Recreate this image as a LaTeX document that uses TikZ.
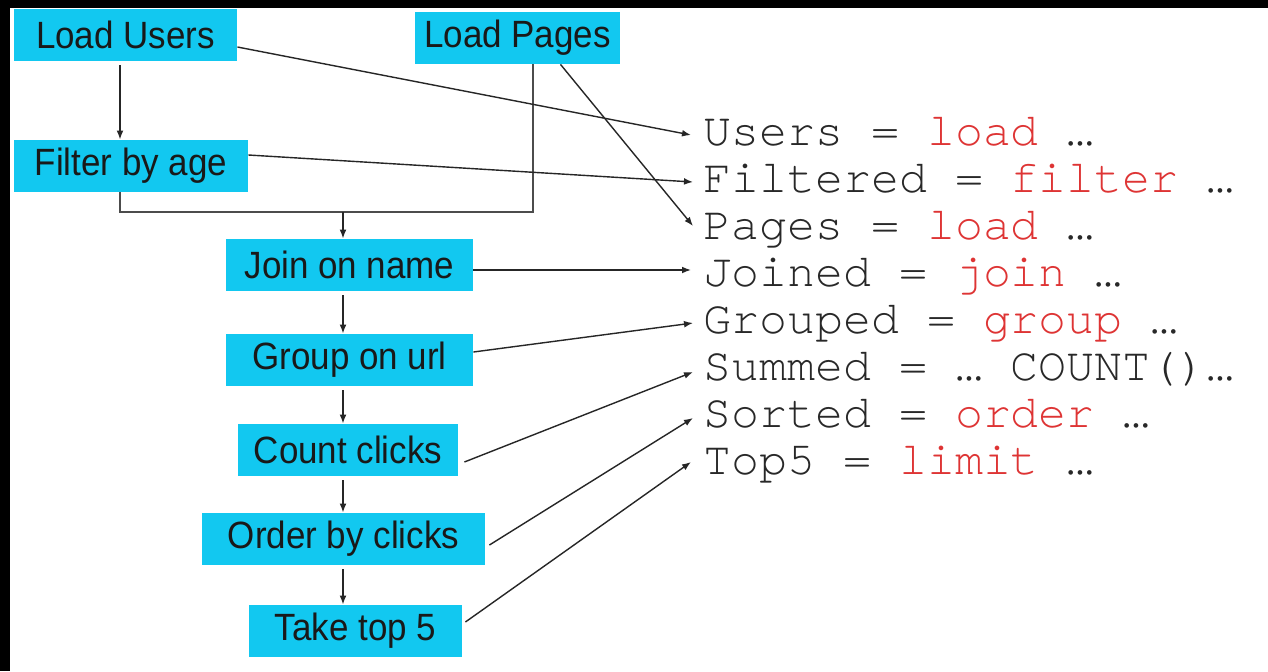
\documentclass[tikz,border=0pt]{standalone}
\usepackage{fontspec}
\usetikzlibrary{calc,arrows.meta}
\newfontfamily\boxfont{Liberation Sans}[FakeStretch=0.92]
\newfontfamily\codefont{TeX Gyre Cursor}[Ligatures={NoCommon,NoRequired}]
\definecolor{stagecyan}{RGB}{18,200,240}
\definecolor{kwred}{RGB}{222,52,52}
\definecolor{codegray}{RGB}{40,40,40}
\tikzset{
	stage/.style={fill=stagecyan, inner sep=0pt, minimum height=26pt, text=black!90, font=\boxfont\fontsize{19}{19}\selectfont},
	codeline/.style={anchor=base west, inner sep=0pt, text=codegray, font=\codefont\fontsize{23.3}{24}\selectfont},
	flow/.style={draw=black!85, line width=0.7pt, -{Latex[length=4.5pt,width=3.4pt]}},
	link/.style={draw=black!70, line width=0.7pt},
}
\newcommand{\kw}[1]{\textcolor{kwred}{#1}}

\begin{document}
\begin{tikzpicture}[x=0.5pt,y=-0.5pt]
	\useasboundingbox (0,0) rectangle (1268,671);
	\fill[white] (0,0) rectangle (1268,671);
	\fill[black] (0,0) rectangle (1268,8);
	\fill[black] (0,0) rectangle (10,671);

	% dataflow boxes
	\node[stage, minimum width=111.5pt] (lu) at (125.5,35) {Load Users};
	\node[stage, minimum width=102.5pt] (lp) at (517.5,38) {Load Pages};
	\node[stage, minimum width=117pt] (fa) at (131,166) {Filter by age};
	\node[stage, minimum width=123.5pt] (join) at (349.5,265) {Join on name};
	\node[stage, minimum width=123.5pt] (group) at (349.5,360) {Group on url};
	\node[stage, minimum width=110pt] (count) at (348,450) {Count clicks};
	\node[stage, minimum width=141.5pt] (order) at (343.5,539) {Order by clicks};
	\node[stage, minimum width=106.5pt] (take) at (355.5,631) {Take top 5};

	\coordinate (ucol) at (120,0);
	\coordinate (pcol) at (533,0);
	\coordinate (spine) at (343,0);
	\coordinate (merge) at (343,212);

	\draw[flow, shorten <=2pt] (lu.south -| ucol) -- (fa.north -| ucol);
	\draw[link] (fa.south -| ucol) |- (merge) -| (lp.south -| pcol);
	\draw[flow] (merge) -- (join.north -| merge);
	\draw[flow, shorten <=2pt] (join.south -| spine) -- (group.north -| spine);
	\draw[flow, shorten <=2pt] (group.south -| spine) -- (count.north -| spine);
	\draw[flow, shorten <=2pt] (count.south -| spine) -- (order.north -| spine);
	\draw[flow, shorten <=2pt] (order.south -| spine) -- (take.north -| spine);

	% pig latin
	\node[codeline] (users) at (703,145) {Users = \kw{load} …};
	\node[codeline] (filtered) at (703,192) {Filtered = \kw{filter} …};
	\node[codeline] (pages) at (703,239) {Pages = \kw{load} …};
	\node[codeline] (joined) at (703,286) {Joined = \kw{join} …};
	\node[codeline] (grouped) at (703,333) {Grouped = \kw{group} …};
	\node[codeline] (summed) at (703,380) {Summed = … COUNT()…};
	\node[codeline] (sorted) at (703,427) {Sorted = \kw{order} …};
	\node[codeline] (top5) at (703,474) {Top5 = \kw{limit} …};

	\draw[flow] ($(lu.east)+(0,12)$) -- ($(users.base west)+(-12,-10)$);
	\draw[flow] ($(fa.east)+(0,-11)$) -- ($(filtered.base west)+(-10,-10)$);
	\draw[flow] ($(lp.south)+(43,0)$) -- ($(pages.base west)+(-10,-13)$);
	\draw[flow] ($(join.east)+(0,5)$) -- ($(joined.base west)+(-12,-16)$);
	\draw[flow] ($(group.east)+(0,-8)$) -- ($(grouped.base west)+(-10,-10)$);
	\draw[flow] ($(count.east)+(6,12)$) -- ($(summed.base west)+(-10,-8)$);
	\draw[flow] ($(order.east)+(4,6)$) -- ($(sorted.base west)+(-10,-9)$);
	\draw[flow] ($(take.east)+(3,-9)$) -- ($(top5.base west)+(-12,-12)$);
\end{tikzpicture}
\end{document}
